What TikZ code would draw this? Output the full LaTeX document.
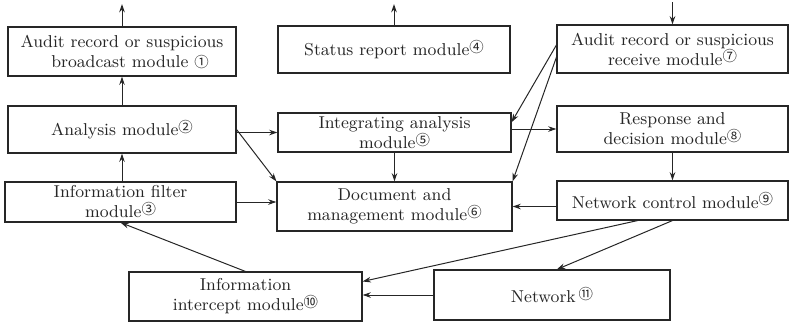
\documentclass[tikz,border=0pt]{standalone}
\usepackage{fontspec}
\newfontfamily\circfont{Noto Sans CJK SC}
\usetikzlibrary{arrows.meta,calc}
\newcommand\cn[1]{\raisebox{0.45ex}{\circfont\fontsize{7.2}{8}\selectfont #1}}
\newcommand\cnb[1]{{\circfont\fontsize{7.2}{8}\selectfont #1}}
\begin{document}
\begin{tikzpicture}[x=0.5pt,y=-0.5pt,
  box/.style={draw=black!85, line width=0.55pt, align=center, inner sep=0pt, text=black!85,
    font=\fontsize{8.6}{10}\selectfont},
  arr/.style={-{Stealth[length=4.2pt,width=2.8pt]}, line width=0.5pt, draw=black!85}]
\useasboundingbox (0,0) rectangle (789,323);
% boxes
\node[box, minimum width=114pt, minimum height=24.5pt] (b1) at (122,51.5) {Audit record or suspicious\\ \hspace*{8pt}broadcast module \cnb{①}};
\node[box, minimum width=114pt, minimum height=23.5pt] (b2) at (122,129.5) {Analysis module\cn{②}};
\node[box, minimum width=115.5pt, minimum height=20pt] (b3) at (120.5,202) {Information filter\\ module\cn{③}};
\node[box, minimum width=116pt, minimum height=23.5pt] (b4) at (394,49.5) {Status report module\cn{④}};
\node[box, minimum width=116.5pt, minimum height=19.5pt] (b5) at (394.5,132.5) {Integrating analysis\\ module\cn{⑤}};
\node[box, minimum width=117.5pt, minimum height=24.5pt] (b6) at (394.5,206.5) {Document and\\ management module\cn{⑥}};
\node[box, minimum width=115.5pt, minimum height=24pt] (b7) at (672.5,49) {Audit record or suspicious\\ receive module\cn{⑦}};
\node[box, minimum width=115.5pt, minimum height=23pt] (b8) at (672.5,129) {Response and\\ decision module\cn{⑧}};
\node[box, minimum width=115.5pt, minimum height=19.5pt] (b9) at (672.5,200.5) {Network control module\cn{⑨}};
\node[box, minimum width=116.5pt, minimum height=24.5pt] (b10) at (245.5,296.5) {Information\\ intercept module\cn{⑩}};
\node[box, minimum width=118pt, minimum height=25pt] (b11) at (552,295) {Network\,\cn{⑪}};
% free ends
\coordinate (t1) at (122,4);
\coordinate (t4) at (394,4);
\coordinate (t7) at (672.5,2);
% connectors
\draw[arr] (b1.north) -- (t1);
\draw[arr] (b4.north) -- (t4);
\draw[arr] (t7) -- (b7.north);
\draw[arr] (b2.north) -- (b1.south);
\draw[arr] (b3.north -| b2.south) -- (b2.south);
\draw[arr] (b5.west -| b2.east) -- (b5.west);
\draw[arr] (b2.east) -- (b6.north west);
\draw[arr] (b3.east) -- (b3.east -| b6.west);
\draw[arr] (b5.south) -- (b6.north);
\draw[arr] (b8.west -| b5.east) -- (b8.west);
\draw[arr] (b7.178) -- (b5.5);
\draw[arr] (b7.184) -- (b6.north east);
\draw[arr] (b8.south) -- (b9.north);
\draw[arr] (b6.east -| b9.west) -- (b6.east);
\draw[arr] ($(b9.south west)!0.35!(b9.south east)$) -- ($(b10.north east)!0.2!(b10.south east)$);
\draw[arr] (b9.south) -- ($(b11.north west)!0.52!(b11.north east)$);
\draw[arr] (b10.north) -- (b3.south);
\draw[arr] (b11.west) -- (b11.west -| b10.east);
\end{tikzpicture}
\end{document}
